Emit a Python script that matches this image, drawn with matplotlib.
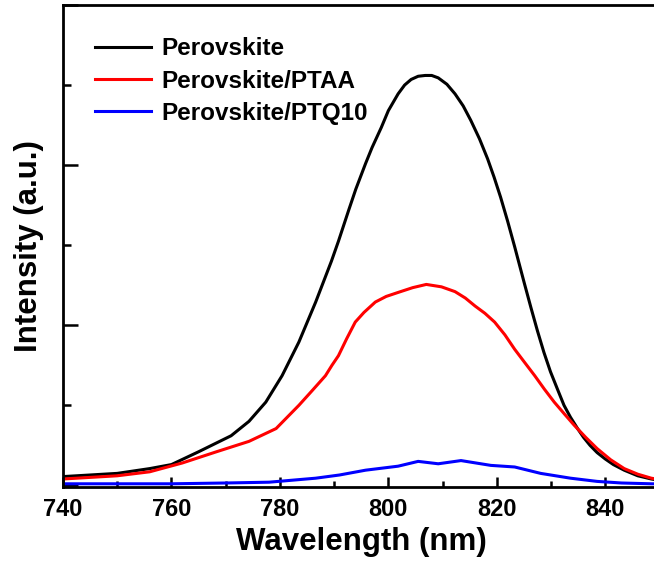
import matplotlib
matplotlib.use("Agg")
import matplotlib.pyplot as plt
from matplotlib.ticker import MultipleLocator, NullFormatter

# Data
wl_perov = [740, 745, 750, 756, 760, 765, 771, 774.3, 777.4, 780.4, 783.5, 786.6,
            789.5, 790.8, 792.7, 794, 795.8, 797, 798.7, 800, 801.8, 803, 804.2,
            805.5, 806.8, 808, 809.2, 810.8, 812.3, 813.8, 815.2, 816.8, 818.3,
            819.5, 820.7, 822, 823.3, 824.2, 825.1, 826.3, 827.5, 828.7, 829.9,
            831.2, 832.4, 833.6, 834.9, 836, 837.2, 838.5, 840, 841.5, 843.5,
            846, 848.5, 850.2]
int_perov = [0.11, 0.13, 0.15, 0.21, 0.26, 0.42, 0.62, 0.80, 1.04, 1.37, 1.79, 2.29,
             2.80, 3.05, 3.44, 3.70, 4.02, 4.22, 4.47, 4.68, 4.89, 5.00, 5.07,
             5.11, 5.12, 5.12, 5.09, 5.01, 4.89, 4.74, 4.56, 4.33, 4.08,
             3.85, 3.60, 3.30, 2.98, 2.75, 2.52, 2.22, 1.93, 1.66, 1.42,
             1.20, 1.00, 0.85, 0.71, 0.60, 0.50, 0.41, 0.33, 0.26, 0.19,
             0.12, 0.08, 0.06]

wl_ptaa = [740, 745, 750, 756, 762, 768.3, 774.3, 779.3, 783.5, 785.9, 788.4, 789.6,
           790.8, 792.3, 793.9, 795.5, 797.6, 799.6, 801.8, 804.5, 807, 809.8,
           812.3, 814.2, 816, 817.8, 819.6, 821.5, 823.3, 825.2, 827, 828.8,
           830.6, 832.5, 834.3, 836.4, 838.5, 841, 843.5, 846, 848.5, 850.2]
int_ptaa = [0.08, 0.10, 0.12, 0.17, 0.28, 0.42, 0.55, 0.71, 1.00, 1.18, 1.37, 1.50,
            1.62, 1.83, 2.04, 2.16, 2.29, 2.36, 2.41, 2.47, 2.51, 2.48,
            2.42, 2.34, 2.24, 2.15, 2.04, 1.88, 1.70, 1.53, 1.37, 1.20,
            1.04, 0.89, 0.75, 0.60, 0.46, 0.32, 0.21, 0.14, 0.09, 0.07]

wl_ptq10 = [740, 750, 760, 770, 778, 786.6, 791, 795.8, 801.8, 805.5, 809.2, 813.4,
            818.9, 823.3, 828.1, 833.6, 838.5, 843, 848.5, 850.2]
int_ptq10 = [0.02, 0.02, 0.02, 0.03, 0.04, 0.09, 0.13, 0.19, 0.24, 0.30, 0.27, 0.31,
             0.25, 0.23, 0.15, 0.09, 0.05, 0.03, 0.02, 0.02]

labels = ["Perovskite", "Perovskite/PTAA", "Perovskite/PTQ10"]
colors = ["#000000", "#ff0000", "#0000ff"]

plt.rcParams['font.family'] = ['Liberation Sans', 'DejaVu Sans']
plt.rcParams['font.weight'] = 'bold'

fig = plt.figure(figsize=(6.54, 5.63), dpi=100)
ax = fig.add_axes([63/654, 1 - 487/563, 1 - 63/654 + 0.01, (487 - 5)/563])

for x, y, lab, c in zip([wl_perov, wl_ptaa, wl_ptq10],
                        [int_perov, int_ptaa, int_ptq10], labels, colors):
    ax.plot(x, y, color=c, lw=2.2, label=lab, solid_joinstyle='round')

ax.set_xlim(740, 850.2)
ax.set_ylim(-0.02, 6.0)

ax.xaxis.set_major_locator(MultipleLocator(20))
ax.xaxis.set_minor_locator(MultipleLocator(10))
ax.yaxis.set_major_locator(MultipleLocator(2))
ax.yaxis.set_minor_locator(MultipleLocator(1))
ax.yaxis.set_major_formatter(NullFormatter())

ax.tick_params(axis='both', which='both', direction='in', width=1.8)
ax.tick_params(axis='x', which='major', length=7, labelsize=17, pad=8)
ax.tick_params(axis='x', which='minor', length=4)
ax.tick_params(axis='y', which='major', length=11)
ax.tick_params(axis='y', which='minor', length=6)
for lbl in ax.get_xticklabels():
    lbl.set_fontweight('bold')

for s in ax.spines.values():
    s.set_linewidth(2.0)

ax.set_xlabel("Wavelength (nm)", fontsize=22.5, fontweight='bold', labelpad=4)
ax.set_ylabel("Intensity (a.u.)", fontsize=22.5, fontweight='bold', labelpad=10)

leg = ax.legend(loc='upper left', frameon=False, fontsize=17.5,
                handlelength=2.3, handletextpad=0.4, labelspacing=0.38,
                bbox_to_anchor=(0.038, 0.953), borderaxespad=0)
for t in leg.get_texts():
    t.set_fontweight('bold')

fig.savefig("out.png", dpi=100)
